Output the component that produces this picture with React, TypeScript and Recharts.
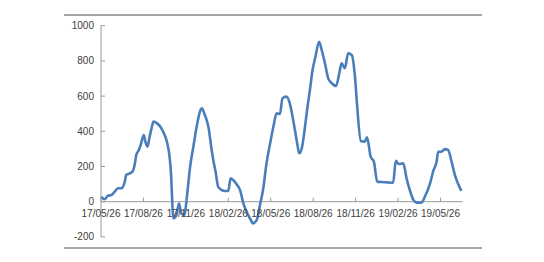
import React from "react";
import { LineChart, Line, XAxis, YAxis, ReferenceLine } from "recharts";

// week index (x) and value (y)
const weeks = [
  0, 1.1, 2.1, 3.2, 4.2, 5.2, 6.2, 7.3, 7.7, 8.8, 9.6, 10.3, 10.8, 11.6, 12.3, 13.1, 13.6, 14.2, 14.9, 15.6,
  16.1, 17.2, 18.5, 19.5, 20.3, 21.0, 21.5, 21.8, 22.1, 23.1, 23.9, 24.6, 25.5, 26.5, 27.3, 28.3, 29.3, 30.3, 30.9, 31.8,
  32.9, 33.9, 34.4, 35.1, 35.9, 37.0, 38.0, 39.0, 39.7, 40.5, 41.7, 42.6, 43.6, 44.6, 45.6, 46.6, 47.7, 48.7, 49.7, 50.7,
  51.8, 52.8, 53.8, 54.8, 55.6, 56.7, 57.7, 58.4, 59.4, 60.1, 60.7, 61.5, 62.3, 63.0, 64.0, 64.8, 65.7, 66.8, 67.6, 68.6,
  69.6, 70.7, 72.0, 73.0, 73.7, 74.7, 75.7, 76.8, 77.8, 78.4, 79.6, 80.8, 81.5, 82.6, 83.6, 84.6, 85.8, 87.6, 89.5, 90.3,
  91.2, 92.6, 93.6, 94.6, 95.7, 96.7, 98.2, 99.2, 100.8, 101.8, 102.8, 103.3, 104.3, 105.3, 106.3, 107.4, 108.4, 109.4, 110.4,
];
const values = [
  28, 14, 34, 38, 57, 76, 76, 114, 152, 161, 170, 208, 265, 294, 332, 379, 341, 313, 369, 426,
  455, 445, 417, 379, 332, 256, 142, 10, -94, -76, -9, -66, -75, 60, 199, 313, 426, 511, 530, 493,
  426, 294, 237, 170, 85, 66, 61, 61, 133, 123, 95, 66, -9, -57, -94, -123, -104, -19, 75, 218,
  330, 426, 502, 498, 587, 597, 568, 511, 407, 332, 275, 303, 398, 502, 635, 748, 824, 909, 862, 786,
  701, 673, 657, 730, 786, 758, 843, 834, 710, 560, 345, 341, 366, 256, 227, 114, 112, 110, 108, 233,
  214, 218, 133, 66, 10, -5, -5, 28, 104, 175, 227, 284, 284, 299, 294, 227, 152, 100, 62,
];

const tickWeeks = [0, 13, 26, 39, 52, 65, 78, 91, 104];
const tickLabels = ["17/05/26", "17/08/26", "17/11/26", "18/02/26", "18/05/26", "18/08/26", "18/11/26", "19/02/26", "19/05/26"];
const yTicks = [-200, 0, 200, 400, 600, 800, 1000];

const data = weeks.map((w, i) => ({ w, v: values[i] }));

const W = 544;
const H = 262;
const TOP = 25.7;
const PLOT_BOTTOM = 236.9;
const YMIN = -200;
const YMAX = 1000;
const zeroY = TOP + (PLOT_BOTTOM - TOP) * (YMAX / (YMAX - YMIN));

const XTick = (props: any) => {
  const { x, index } = props;
  return (
    <g>
      <line x1={x} x2={x} y1={zeroY} y2={zeroY - 4} stroke="#9a9a9a" strokeWidth={1} />
      <text x={x} y={zeroY + 15} textAnchor="middle" fontSize={10} fill="#404040" fontFamily="Liberation Sans, Arial, sans-serif">
        {tickLabels[index]}
      </text>
    </g>
  );
};

export default function App() {
  return (
    <div style={{ position: "absolute", left: 0, top: 0, width: W, height: H, background: "#fff" }}>
      <div style={{ position: "absolute", left: 64, top: 14, width: 418, height: 2, background: "#a6a6a6" }} />
      <div style={{ position: "absolute", left: 64, top: 247, width: 418, height: 2, background: "#a6a6a6" }} />
      <div style={{ position: "absolute", left: 0, top: 0 }}>
        <LineChart width={W} height={H} data={data} margin={{ top: TOP, right: 81.3, bottom: H - PLOT_BOTTOM - 1, left: 0 }}>
          <XAxis
            dataKey="w"
            type="number"
            domain={[0, 110.8]}
            ticks={tickWeeks}
            interval={0}
            height={1}
            axisLine={false}
            tickLine={false}
            tick={<XTick />}
          />
          <YAxis
            type="number"
            domain={[YMIN, YMAX]}
            ticks={yTicks}
            interval={0}
            width={101}
            axisLine={{ stroke: "#9a9a9a" }}
            tickLine={{ stroke: "#9a9a9a" }}
            tickSize={-4}
            tickMargin={11}
            tick={{ fontSize: 10, fill: "#404040", fontFamily: "Liberation Sans, Arial, sans-serif" }}
          />
          <ReferenceLine y={0} stroke="#9a9a9a" strokeWidth={1} />
          <Line
            type="monotone"
            dataKey="v"
            stroke="#4a7ebb"
            strokeWidth={2.6}
            dot={false}
            isAnimationActive={false}
          />
        </LineChart>
      </div>
    </div>
  );
}
